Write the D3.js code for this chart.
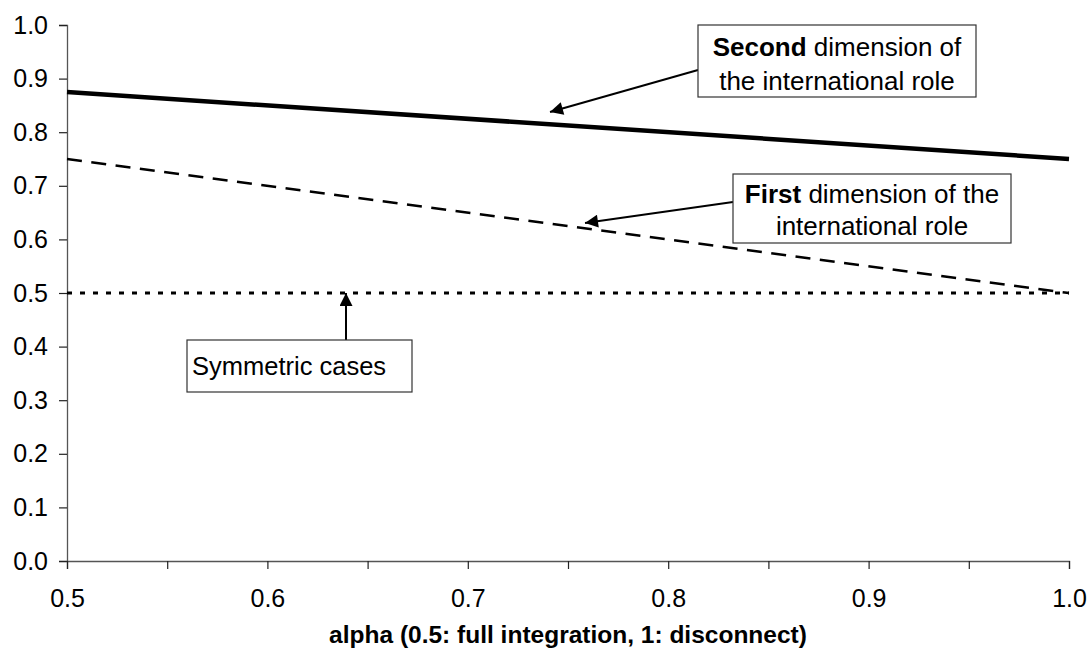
<!DOCTYPE html>
<html>
<head>
<meta charset="utf-8">
<script src="https://cdn.jsdelivr.net/npm/d3@7"></script>
<style>
  body { margin: 0; background: #fff; }
  text { font-family: "Liberation Sans", Arial, sans-serif; fill: #000; }
</style>
</head>
<body>
<div id="chart"></div>
<script>
// Data
const alpha = [0.5, 1.0];
const secondDim = [0.875, 0.75];
const firstDim = [0.75, 0.5];
const symmetric = [0.5, 0.5];

const xTicks = [0.5, 0.55, 0.6, 0.65, 0.7, 0.75, 0.8, 0.85, 0.9, 0.95, 1.0];
const xLabels = [0.5, 0.6, 0.7, 0.8, 0.9, 1.0];
const yTicks = [0, 0.1, 0.2, 0.3, 0.4, 0.5, 0.6, 0.7, 0.8, 0.9, 1.0];

const width = 1091, height = 654;
const margin = { top: 25, right: 22, bottom: 93, left: 67 };

const svg = d3.select("#chart").append("svg")
  .attr("width", width)
  .attr("height", height);

const x = d3.scaleLinear().domain([0.5, 1.0]).range([margin.left, width - margin.right]);
const y = d3.scaleLinear().domain([0, 1]).range([height - margin.bottom, margin.top]);

// Arrow marker
svg.append("defs").append("marker")
  .attr("id", "arrow")
  .attr("viewBox", "0 0 10 10")
  .attr("refX", 10).attr("refY", 5)
  .attr("markerWidth", 7.5).attr("markerHeight", 6.5)
  .attr("markerUnits", "strokeWidth")
  .attr("orient", "auto")
  .append("path")
  .attr("d", "M0,0 L10,5 L0,10 z")
  .attr("fill", "#000");

// Axes
const yAxis = svg.append("g")
  .attr("transform", `translate(${margin.left},0)`)
  .call(d3.axisLeft(y).tickValues(yTicks).tickFormat(d3.format(".1f")).tickSize(8).tickPadding(10));

const xAxis = svg.append("g")
  .attr("transform", `translate(0,${height - margin.bottom})`)
  .call(d3.axisBottom(x).tickValues(xTicks)
    .tickFormat(d => xLabels.some(v => Math.abs(v - d) < 1e-9) ? d3.format(".1f")(d) : "")
    .tickSize(8).tickPadding(20));

[xAxis, yAxis].forEach(g => {
  g.select(".domain").attr("stroke", "#555").attr("stroke-width", 1.3);
  g.selectAll(".tick line").attr("stroke", "#222").attr("stroke-width", 1.2);
  g.selectAll(".tick text").style("font-size", "25px").attr("fill", "#000")
    .style("font-family", "'Liberation Sans', Arial, sans-serif");
});
yAxis.selectAll(".tick text").attr("x", -19);

// Lines
const line = d3.line().x(d => x(d[0])).y(d => y(d[1]));

svg.append("path")
  .datum(d3.zip(alpha, symmetric))
  .attr("d", line)
  .attr("fill", "none")
  .attr("stroke", "#000")
  .attr("stroke-width", 3)
  .attr("stroke-dasharray", "5,8");

svg.append("path")
  .datum(d3.zip(alpha, firstDim))
  .attr("d", line)
  .attr("fill", "none")
  .attr("stroke", "#000")
  .attr("stroke-width", 2.5)
  .attr("stroke-dasharray", "15,9.5");

svg.append("path")
  .datum(d3.zip(alpha, secondDim))
  .attr("d", line)
  .attr("fill", "none")
  .attr("stroke", "#000")
  .attr("stroke-width", 4.5);

// Annotations
function box(x0, y0, w, h) {
  svg.append("rect")
    .attr("x", x0).attr("y", y0)
    .attr("width", w).attr("height", h)
    .attr("fill", "#fff")
    .attr("stroke", "#333")
    .attr("stroke-width", 1.2);
}
function arrow(x1, y1, x2, y2) {
  svg.append("line")
    .attr("x1", x1).attr("y1", y1)
    .attr("x2", x2).attr("y2", y2)
    .attr("stroke", "#000")
    .attr("stroke-width", 2)
    .attr("marker-end", "url(#arrow)");
}

// Second dimension
arrow(698, 70, 550, 112);
box(698, 25, 278, 72);
let t = svg.append("text").attr("x", 837).attr("y", 56)
  .attr("text-anchor", "middle").style("font-size", "26px");
t.append("tspan").attr("font-weight", "bold").text("Second");
t.append("tspan").text(" dimension of");
svg.append("text").attr("x", 837).attr("y", 90)
  .attr("text-anchor", "middle").style("font-size", "26px")
  .text("the international role");

// First dimension
arrow(733, 202, 585, 223);
box(733, 174, 278, 69);
t = svg.append("text").attr("x", 872).attr("y", 203)
  .attr("text-anchor", "middle").style("font-size", "26px");
t.append("tspan").attr("font-weight", "bold").text("First");
t.append("tspan").text(" dimension of the");
svg.append("text").attr("x", 872).attr("y", 235)
  .attr("text-anchor", "middle").style("font-size", "26px")
  .text("international role");

// Symmetric cases
arrow(346, 340, 346, y(0.5));
box(187, 340, 225, 52);
svg.append("text").attr("x", 192).attr("y", 375)
  .style("font-size", "25.5px")
  .text("Symmetric cases");

// X axis title
svg.append("text")
  .attr("x", (margin.left + width - margin.right) / 2)
  .attr("y", 643)
  .attr("text-anchor", "middle")
  .style("font-size", "24.5px")
  .style("font-weight", "bold")
  .text("alpha (0.5: full integration, 1: disconnect)");
</script>
</body>
</html>
